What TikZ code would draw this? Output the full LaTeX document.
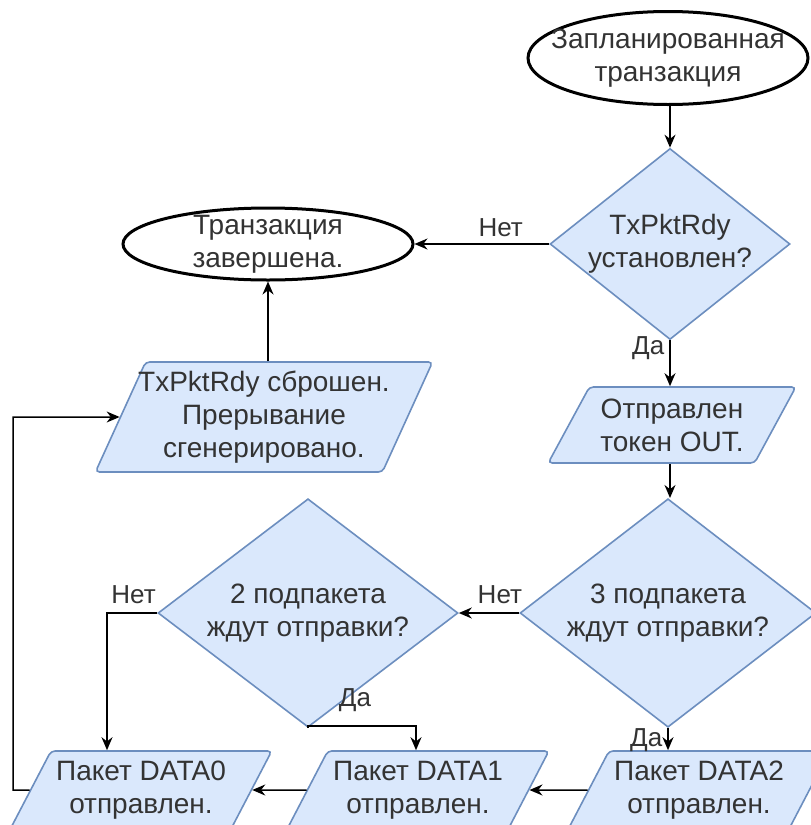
\documentclass[tikz,border=0pt]{standalone}
\usepackage{fontspec}
\setmainfont{Liberation Sans}
\usepackage{tikz}
\usetikzlibrary{shapes.geometric,arrows.meta,calc}
\definecolor{qfill}{HTML}{DAE8FC}
\definecolor{qline}{HTML}{6C8EBF}
\definecolor{ink}{HTML}{333333}

\begin{document}
\begin{tikzpicture}[x=1pt,y=-1pt,font=\fontsize{28}{33}\selectfont,text=ink,
  term/.style={ellipse,draw=black,line width=3pt,fill=white,inner xsep=-22pt,inner ysep=-10pt,align=center},
  decide/.style={diamond,draw=qline,fill=qfill,line width=1.6pt,inner sep=-8pt,align=center},
  io/.style={trapezium,trapezium left angle=58,trapezium right angle=122,trapezium stretches=true,draw=qline,fill=qfill,line width=1.6pt,rounded corners=4pt,inner xsep=-18pt,inner ysep=-5pt,align=center},
  arr/.style={-{Stealth[length=13pt,width=11pt]},line width=1.5pt,draw=black},
  lbl/.style={font=\fontsize{26}{30}\selectfont,inner sep=2pt}]
\fill[white] (0,0) rectangle (811,825);
\useasboundingbox (0,0) rectangle (811,825);
\node[term,minimum width=280pt,minimum height=93pt] (start) at (668,58) {Запланированная\\транзакция};
\node[decide,minimum width=240pt,minimum height=173pt] (d1) at (670,244) {TxPktRdy\\установлен?};
\node[term,minimum width=290pt,minimum height=72pt] (fin) at (268,244) {Транзакция\\завершена.};
\node[io,trapezium left angle=61,trapezium right angle=119,minimum width=338pt,minimum height=110pt] (reset) at (264,417) {TxPktRdy сброшен.\\Прерывание\\сгенерировано.};
\node[io,minimum width=248pt,minimum height=76pt] (tok) at (672,425) {Отправлен\\токен OUT.};
\node[decide,minimum width=296pt,minimum height=185pt] (d3) at (668,613) {3 подпакета\\ждут отправки?};
\node[decide,minimum width=300pt,minimum height=185pt] (d2) at (308,613) {2 подпакета\\ждут отправки?};
\node[io,minimum width=262pt,minimum height=78pt] (data0) at (141,790) {Пакет DATA0\\отправлен.};
\node[io,minimum width=262pt,minimum height=78pt] (data1) at (418,790) {Пакет DATA1\\отправлен.};
\node[io,minimum width=262pt,minimum height=78pt] (data2) at (699,790) {Пакет DATA2\\отправлен.};
\coordinate (n0) at (107,613);
\coordinate (j2) at (308,726);
\coordinate (k1) at (416,726);
\coordinate (b0) at (13,790);
\draw[arr] (start.south -| d1.north) -- (d1.north);
\draw[arr] (d1) -- node[lbl,above=5pt,pos=0.36] {Нет} (fin);
\draw[arr] (d1.south) -- node[lbl,left=3pt,pos=0.17] {Да} (d1.south |- tok.north);
\draw[arr] (d1.south |- tok.south) -- (d3.north -| d1.south);
\draw[arr] (d3) -- node[lbl,above=7pt,pos=0.32] {Нет} (d2);
\draw[arr] (d2.west) -- node[lbl,above=7pt,pos=0.47] {Нет} (n0) -- (n0 |- data0.north);
\draw[arr] (d2.south) -- (j2) -- (k1) -- (k1 |- data1.north);
\node[lbl] at (355,700) {Да};
\draw[arr] (d3.south) -- node[lbl,left=3pt,pos=0.55] {Да} (d3.south |- data2.north);
\draw[arr] (data2) -- (data1);
\draw[arr] (data1) -- (data0);
\draw[arr] (data0) -- (b0) |- (reset);
\draw[arr] (reset.north -| fin.south) -- (fin.south);
\end{tikzpicture}
\end{document}
